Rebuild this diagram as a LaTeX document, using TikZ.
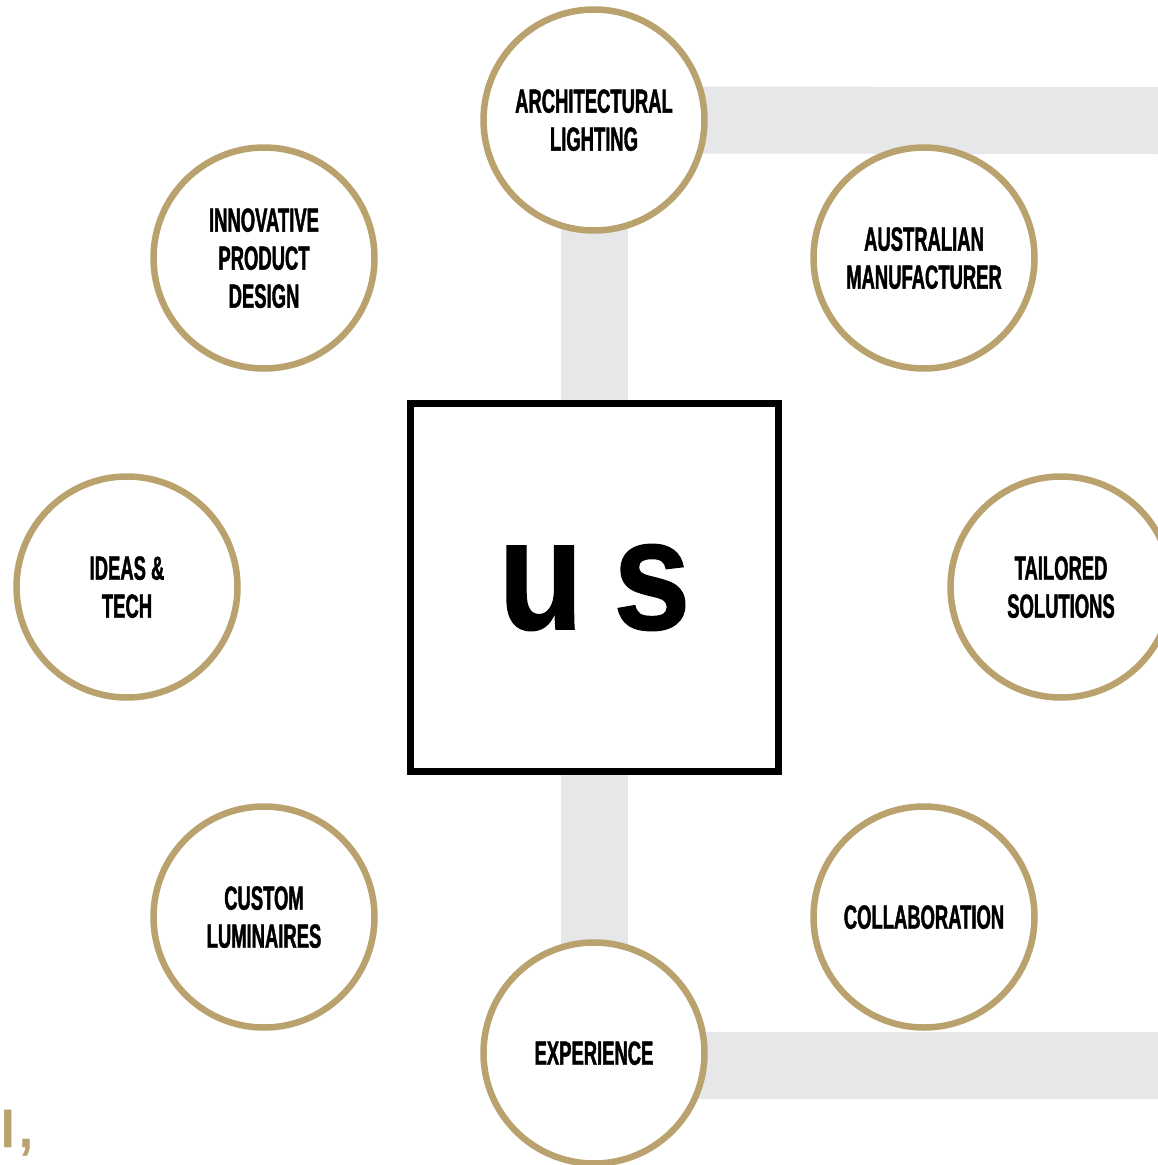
\documentclass[tikz,border=0pt]{standalone}
\usepackage{fontspec}
\setmainfont{Liberation Sans}
\newfontfamily\labelfont{Liberation Sans Bold}[FakeStretch=0.55,FakeBold=1.2]
\newfontfamily\usfont{Liberation Sans Bold}[FakeStretch=0.88,FakeBold=0.8]
\usetikzlibrary{backgrounds}
\definecolor{gold}{HTML}{B9A26E}
\definecolor{bargray}{HTML}{E6E7E8}
\begin{document}
\begin{tikzpicture}[x=1pt,y=-1pt,
  ring/.style={circle, draw=gold, line width=6.5pt, fill=white, minimum size=221pt,
    inner sep=0pt, align=center, text depth=-5pt,
    font=\labelfont\fontsize{33.5}{38}\selectfont},
  bar/.style={draw=bargray, line width=67pt},
  core/.style={rectangle, draw=black, line width=7pt, fill=white, minimum size=368pt,
    inner sep=0pt, font=\usfont\fontsize{158}{160}\selectfont}]
\useasboundingbox (0,0) rectangle (1158,1165);
\clip (0,0) rectangle (1158,1165);

\node[core] (us) at (594.5,587.5) {u\kern30pt s};

\node[ring] (arch) at (594,120) {ARCHITECTURAL\\LIGHTING};
\node[ring] (aus) at (924,258) {AUSTRALIAN\\MANUFACTURER};
\node[ring] (tail) at (1061,587) {TAILORED\\SOLUTIONS};
\node[ring] (coll) at (924,917) {COLLABORATION};
\node[ring] (exp) at (594,1053) {EXPERIENCE};
\node[ring] (cust) at (264,917) {CUSTOM\\LUMINAIRES};
\node[ring] (ideas) at (127,587) {IDEAS \&\\TECH};
\node[ring] (innov) at (264,258) {INNOVATIVE\\PRODUCT\\DESIGN};

\coordinate (rtop) at (1160,120.5);
\coordinate (rbot) at (1160,1065.5);

\begin{pgfonlayer}{background}
  \draw[bar] (arch.center) -- (exp.center);
  \draw[bar] (arch.center) -- (rtop);
  \draw[bar] (exp.center |- rbot) -- (rbot);
\end{pgfonlayer}

\node[anchor=base west, inner sep=0pt, text=gold,
  font=\usfont\fontsize{54}{60}\selectfont] (frag) at (1,1147) {I\kern5pt,};
\end{tikzpicture}
\end{document}
